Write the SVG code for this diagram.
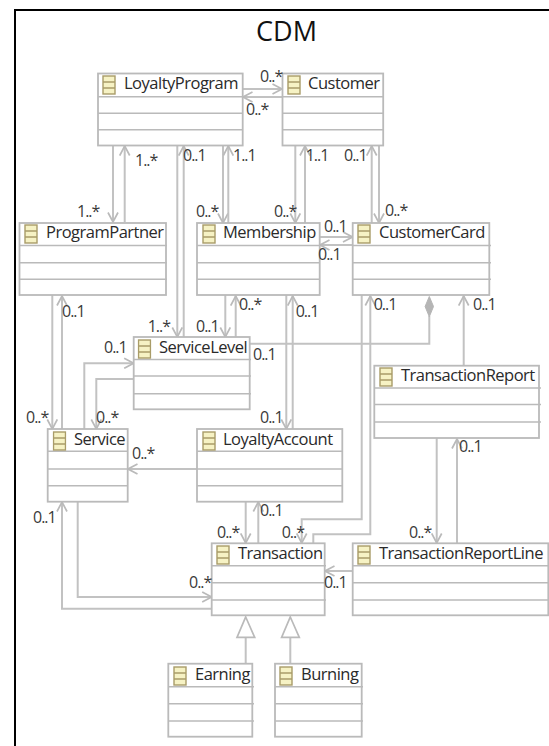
<svg xmlns="http://www.w3.org/2000/svg" width="549" height="746" viewBox="0 0 549 746">
<style>
text{font-family:"Open Sans","Noto Sans","Liberation Sans",sans-serif;fill:#2a2a2a}
.t{font-size:27px;fill:#111}
.n{font-size:16.5px;letter-spacing:-.5px}
.m{font-size:16px;letter-spacing:-1px;fill:#3a3a3a}
.box{fill:#fff;stroke:#bababa;stroke-width:1.8}
.sep{fill:none;stroke:#bababa;stroke-width:1.6}
.c{fill:none;stroke:#c2c2c2;stroke-width:2}
.g{fill:#fff;stroke:#bababa;stroke-width:1.7}
.d{fill:#b5b5b5;stroke:#b5b5b5}
</style>
<defs>
<marker id="a" viewBox="0 0 12 12" refX="10.5" refY="6" markerWidth="12" markerHeight="12" markerUnits="userSpaceOnUse" orient="auto"><path d="M1 1L10.5 6L1 11" fill="none" stroke="#bababa" stroke-width="1.7"/></marker>
<symbol id="i" width="14" height="20" viewBox="0 0 14 20"><rect x="1" y="1" width="12" height="18" fill="#f6f2c4" stroke="#a99c68" stroke-width="1.4"/><path d="M1 7H13M1 13H13" stroke="#a99c68" stroke-width="1.3"/></symbol>
</defs>
<path d="M15 746V10H549" fill="none" stroke="#000" stroke-width="2"/>
<text class="t" x="286.500" y="41" text-anchor="middle">CDM</text>
<g id="connectors">
<path class="c" marker-end="url(#a)" d="M243 89H282"/>
<path class="c" marker-end="url(#a)" d="M282 97H243"/>
<path class="c" marker-end="url(#a)" d="M113 146V222"/>
<path class="c" marker-end="url(#a)" d="M124.700 222V146"/>
<path class="c" marker-end="url(#a)" d="M177.300 146V337"/>
<path class="c" marker-end="url(#a)" d="M183.700 337V146"/>
<path class="c" marker-end="url(#a)" d="M223 146V223"/>
<path class="c" marker-end="url(#a)" d="M228.300 223V146"/>
<path class="c" marker-end="url(#a)" d="M295.300 146V223"/>
<path class="c" marker-end="url(#a)" d="M305 223V146"/>
<path class="c" marker-end="url(#a)" d="M371.700 223V146"/>
<path class="c" marker-end="url(#a)" d="M379 146V223"/>
<path class="c" marker-end="url(#a)" d="M320 237H352.500"/>
<path class="c" marker-end="url(#a)" d="M352.500 245H320"/>
<path class="c" marker-end="url(#a)" d="M52.300 295V429"/>
<path class="c" marker-end="url(#a)" d="M62 429V296"/>
<path class="c" marker-end="url(#a)" d="M225.300 295V337"/>
<path class="c" marker-end="url(#a)" d="M235.700 337V296"/>
<path class="c" marker-end="url(#a)" d="M84.300 429V363.300H133.700"/>
<path class="c" marker-end="url(#a)" d="M133.700 379H96.300V429"/>
<path class="c" d="M250 343.700H429.300V316"/>
<path class="d" d="M429.300 296.500L433.500 306.500L429.300 316.700L425.100 306.500Z"/>
<path class="c" marker-end="url(#a)" d="M286.300 295V429"/>
<path class="c" marker-end="url(#a)" d="M292.700 429V296"/>
<path class="c" marker-end="url(#a)" d="M361.700 295V519.300H301.700V543"/>
<path class="c" marker-end="url(#a)" d="M313.300 543V534.300H370.300V296"/>
<path class="c" marker-end="url(#a)" d="M463.700 365.700V296"/>
<path class="c" marker-end="url(#a)" d="M436.700 438V543"/>
<path class="c" marker-end="url(#a)" d="M457 543V439"/>
<path class="c" marker-end="url(#a)" d="M197 469H128"/>
<path class="c" marker-end="url(#a)" d="M245.700 502V543"/>
<path class="c" marker-end="url(#a)" d="M258.300 543V502"/>
<path class="c" marker-end="url(#a)" d="M77.700 502V597H211.700"/>
<path class="c" marker-end="url(#a)" d="M211.700 608.700H62V502"/>
<path class="c" marker-end="url(#a)" d="M352.700 571H325"/>
<path class="c" d="M245.700 637V663.700M290.300 637V663.700"/>
<path class="g" d="M245.700 617L254.700 637.300H237Z"/>
<path class="g" d="M290.300 617L299.300 637.300H281.600Z"/>
</g>
<g id="LoyaltyProgram"><rect class="box" x="98" y="73.500" width="144.700" height="72"/><path class="sep" d="M98 96.700H243M98 113.300H243M98 129.700H243"/><use href="#i" x="102" y="75"/><text class="n" x="124" y="89">LoyaltyProgram</text></g>
<g id="Customer"><rect class="box" x="282.500" y="73.500" width="100.700" height="72"/><path class="sep" d="M282.500 96.700H384M282.500 113.300H384M282.500 129.700H384"/><use href="#i" x="287" y="75"/><text class="n" x="308" y="89">Customer</text></g>
<g id="ProgramPartner"><rect class="box" x="19.500" y="223" width="146.500" height="72"/><path class="sep" d="M19.500 245.500H167M19.500 262.700H167M19.500 279.300H167"/><use href="#i" x="24" y="224"/><text class="n" x="46" y="238">ProgramPartner</text></g>
<g id="Membership"><rect class="box" x="197" y="223" width="122.700" height="72"/><path class="sep" d="M197 245.500H320M197 262.700H320M197 279.300H320"/><use href="#i" x="202" y="224"/><text class="n" x="223" y="238">Membership</text></g>
<g id="CustomerCard"><rect class="box" x="352.700" y="223" width="136.600" height="72"/><path class="sep" d="M352.700 245.500H491M352.700 262.700H491M352.700 279.300H491"/><use href="#i" x="357" y="224"/><text class="n" x="379" y="238">CustomerCard</text></g>
<g id="ServiceLevel"><rect class="box" x="133.700" y="337" width="116" height="72.300"/><path class="sep" d="M133.700 359.500H251M133.700 376H251M133.700 393.700H251"/><use href="#i" x="137.500" y="339"/><text class="n" x="159" y="353">ServiceLevel</text></g>
<g id="Service"><rect class="box" x="47.700" y="429" width="80" height="72.700"/><path class="sep" d="M47.700 451.300H127.700M47.700 469H127.700M47.700 485.700H127.700"/><use href="#i" x="52.500" y="431"/><text class="n" x="74" y="445">Service</text></g>
<g id="LoyaltyAccount"><rect class="box" x="197" y="429" width="145.300" height="72.700"/><path class="sep" d="M197 451.300H342.300M197 469H342.300M197 485.700H342.300"/><use href="#i" x="202" y="431"/><text class="n" x="223" y="445">LoyaltyAccount</text></g>
<g id="TransactionReport"><rect class="box" x="374.300" y="365.700" width="164.700" height="72.300"/><path class="sep" d="M374.300 388H541M374.300 404.500H541M374.300 422H541"/><use href="#i" x="379" y="367"/><text class="n" x="401" y="381">TransactionReport</text></g>
<g id="Transaction"><rect class="box" x="211.700" y="543.300" width="113" height="72"/><path class="sep" d="M211.700 565.700H326M211.700 582.700H326M211.700 600H326"/><use href="#i" x="216" y="545"/><text class="n" x="238" y="559">Transaction</text></g>
<g id="TransactionReportLine"><rect class="box" x="352.700" y="543.300" width="195.600" height="72"/><path class="sep" d="M352.700 565.700H548.300M352.700 582.700H548.300M352.700 600H548.300"/><use href="#i" x="357" y="545"/><text class="n" x="379" y="559">TransactionReportLine</text></g>
<g id="Earning"><rect class="box" x="168.300" y="663.700" width="84" height="73"/><path class="sep" d="M168.300 686.700H254M168.300 703.700H254M168.300 721H254"/><use href="#i" x="173" y="666"/><text class="n" x="195" y="680">Earning</text></g>
<g id="Burning"><rect class="box" x="275" y="663.700" width="86.700" height="73"/><path class="sep" d="M275 686.700H363M275 703.700H363M275 721H363"/><use href="#i" x="279" y="666"/><text class="n" x="301" y="680">Burning</text></g>
<g id="labels">
<text class="m" x="260" y="82">0..*</text>
<text class="m" x="246" y="115">0..*</text>
<text class="m" x="135" y="166">1..*</text>
<text class="m" x="77" y="217">1..*</text>
<text class="m" x="183" y="161">0..1</text>
<text class="m" x="233" y="161">1..1</text>
<text class="m" x="196" y="217">0..*</text>
<text class="m" x="305.700" y="161">1..1</text>
<text class="m" x="344" y="161">0..1</text>
<text class="m" x="385" y="216">0..*</text>
<text class="m" x="274" y="217">0..*</text>
<text class="m" x="324" y="232">0..1</text>
<text class="m" x="318" y="260">0..1</text>
<text class="m" x="62" y="317">0..1</text>
<text class="m" x="239" y="310">0..*</text>
<text class="m" x="147.700" y="332">1..*</text>
<text class="m" x="196" y="332">0..1</text>
<text class="m" x="104" y="353">0..1</text>
<text class="m" x="253" y="360">0..1</text>
<text class="m" x="26" y="423">0..*</text>
<text class="m" x="96" y="423">0..*</text>
<text class="m" x="260" y="423">0..1</text>
<text class="m" x="132" y="459">0..*</text>
<text class="m" x="295.700" y="317">0..1</text>
<text class="m" x="373.700" y="310">0..1</text>
<text class="m" x="473" y="310">0..1</text>
<text class="m" x="459" y="452">0..1</text>
<text class="m" x="33" y="523">0..1</text>
<text class="m" x="217" y="538">0..*</text>
<text class="m" x="189" y="588">0..*</text>
<text class="m" x="260" y="516">0..1</text>
<text class="m" x="281.700" y="538">0..*</text>
<text class="m" x="409" y="538">0..*</text>
<text class="m" x="324" y="588">0..1</text>
</g>
</svg>
